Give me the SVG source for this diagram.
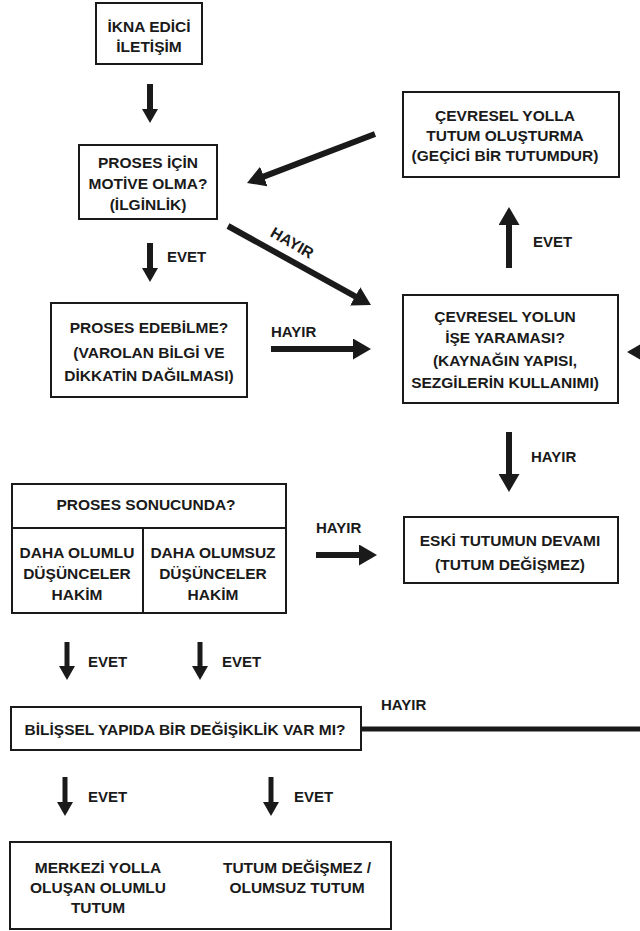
<svg xmlns="http://www.w3.org/2000/svg" width="640" height="931" viewBox="0 0 640 931">
<style>
.box{fill:#fff;stroke:#1a1a1a;stroke-width:2}
.t{font-family:"Liberation Sans",Arial,sans-serif;font-weight:bold;font-size:15.5px;fill:#1a1a1a;text-anchor:middle}
.l{font-family:"Liberation Sans",Arial,sans-serif;font-weight:bold;font-size:15px;fill:#1a1a1a}
.a{stroke:#1a1a1a;stroke-width:6;fill:none}
.a5{stroke:#1a1a1a;stroke-width:5;fill:none}
</style>
<defs>
<marker id="big" viewBox="0 0 18 21" refX="1" refY="10.5" markerWidth="18" markerHeight="21" markerUnits="userSpaceOnUse" orient="auto"><path d="M0,0 L18,10.5 L0,21 Z" fill="#1a1a1a"/></marker>
<marker id="small" viewBox="0 0 14 16" refX="1" refY="8" markerWidth="14" markerHeight="16" markerUnits="userSpaceOnUse" orient="auto"><path d="M0,0 L14,8 L0,16 Z" fill="#1a1a1a"/></marker>
</defs>
<rect width="640" height="931" fill="#fff"/>

<g id="connectors">
<line class="a" x1="150" y1="84" x2="150" y2="110" marker-end="url(#small)"/>
<line class="a" x1="375" y1="134" x2="262.9" y2="176.9" marker-end="url(#big)"/>
<line class="a" x1="228" y1="226" x2="356.1" y2="296.8" marker-end="url(#big)"/>
<line class="a" x1="150" y1="243" x2="150" y2="269" marker-end="url(#small)"/>
<line class="a" x1="271" y1="349" x2="354" y2="349" marker-end="url(#big)"/>
<line class="a" x1="509" y1="268" x2="509" y2="224" marker-end="url(#big)"/>
<line class="a" x1="660" y1="352" x2="644" y2="352" marker-end="url(#big)"/>
<line class="a" x1="509" y1="432" x2="509" y2="475" marker-end="url(#big)"/>
<line class="a" x1="316" y1="555" x2="360" y2="555" marker-end="url(#big)"/>
<line class="a5" x1="67" y1="642" x2="67" y2="667" marker-end="url(#small)"/>
<line class="a5" x1="200" y1="642" x2="200" y2="667" marker-end="url(#small)"/>
<line class="a5" x1="361" y1="729" x2="640" y2="729"/>
<line class="a5" x1="65" y1="777" x2="65" y2="803" marker-end="url(#small)"/>
<line class="a5" x1="271" y1="777" x2="271" y2="803" marker-end="url(#small)"/>
<text class="l" x="167" y="262">EVET</text>
<text class="t" x="292" y="248" transform="rotate(30 292 243)">HAYIR</text>
<text class="l" x="271" y="337">HAYIR</text>
<text class="l" x="533" y="247">EVET</text>
<text class="l" x="531" y="462">HAYIR</text>
<text class="l" x="316" y="533">HAYIR</text>
<text class="l" x="88" y="667">EVET</text>
<text class="l" x="222" y="667">EVET</text>
<text class="l" x="381" y="710">HAYIR</text>
<text class="l" x="88" y="802">EVET</text>
<text class="l" x="294" y="802">EVET</text>
</g>

<g id="n-ikna">
<rect class="box" x="96" y="3" width="106" height="61"/>
<text class="t" x="149" y="32">İKNA EDİCİ</text>
<text class="t" x="149" y="52">İLETİŞİM</text>
</g>

<g id="n-motive">
<rect class="box" x="79" y="145" width="138" height="74"/>
<text class="t" x="148" y="168">PROSES İÇİN</text>
<text class="t" x="148" y="189">MOTİVE OLMA?</text>
<text class="t" x="148" y="210">(İLGİNLİK)</text>
</g>

<g id="n-cevresel-yolla">
<rect class="box" x="403" y="92" width="216" height="85"/>
<text class="t" x="505" y="121">ÇEVRESEL YOLLA</text>
<text class="t" x="505" y="141">TUTUM OLUŞTURMA</text>
<text class="t" x="505" y="161">(GEÇİCİ BİR TUTUMDUR)</text>
</g>

<g id="n-edebilme">
<rect class="box" x="51" y="303" width="196" height="94"/>
<text class="t" x="149" y="333">PROSES EDEBİLME?</text>
<text class="t" x="149" y="358">(VAROLAN BİLGİ VE</text>
<text class="t" x="149" y="381">DİKKATİN DAĞILMASI)</text>
</g>

<g id="n-cevresel-yolun">
<rect class="box" x="403" y="295" width="215" height="108"/>
<text class="t" x="505" y="322">ÇEVRESEL YOLUN</text>
<text class="t" x="505" y="343">İŞE YARAMASI?</text>
<text class="t" x="505" y="366">(KAYNAĞIN YAPISI,</text>
<text class="t" x="505" y="388">SEZGİLERİN KULLANIMI)</text>
</g>

<g id="n-sonucunda">
<rect class="box" x="12" y="484" width="274" height="129"/>
<line class="box" x1="12" y1="528" x2="286" y2="528"/>
<line class="box" x1="143" y1="528" x2="143" y2="613"/>
<text class="t" x="146" y="510">PROSES SONUCUNDA?</text>
<text class="t" x="77" y="558">DAHA OLUMLU</text>
<text class="t" x="77" y="579">DÜŞÜNCELER</text>
<text class="t" x="77" y="600">HAKİM</text>
<text class="t" x="213" y="558">DAHA OLUMSUZ</text>
<text class="t" x="213" y="579">DÜŞÜNCELER</text>
<text class="t" x="213" y="600">HAKİM</text>
</g>

<g id="n-eski">
<rect class="box" x="404" y="517" width="214" height="66"/>
<text class="t" x="510" y="546">ESKİ TUTUMUN DEVAMI</text>
<text class="t" x="510" y="570">(TUTUM DEĞİŞMEZ)</text>
</g>

<g id="n-bilissel">
<rect class="box" x="11" y="707" width="350" height="43"/>
<text class="t" x="185" y="735">BİLİŞSEL YAPIDA BİR DEĞİŞİKLİK VAR MI?</text>
</g>

<g id="n-sonuc">
<rect class="box" x="10" y="842" width="381" height="87"/>
<text class="t" x="98" y="873">MERKEZİ YOLLA</text>
<text class="t" x="98" y="893">OLUŞAN OLUMLU</text>
<text class="t" x="98" y="913">TUTUM</text>
<text class="t" x="297" y="873">TUTUM DEĞİŞMEZ /</text>
<text class="t" x="297" y="893">OLUMSUZ TUTUM</text>
</g>
</svg>
